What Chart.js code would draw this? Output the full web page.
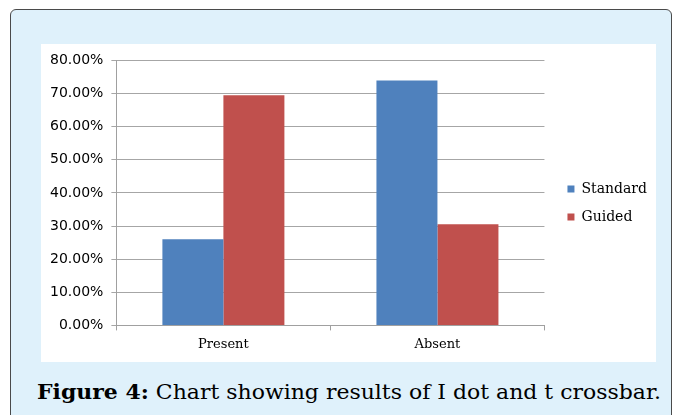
<!DOCTYPE html>
<html>
<head>
<meta charset="utf-8">
<script src="https://cdn.jsdelivr.net/npm/chart.js@4/dist/chart.umd.min.js"></script>
<style>
  html, body { margin: 0; padding: 0; background: #ffffff; }
  body { width: 680px; height: 415px; position: relative; overflow: hidden; }
  .frame {
    position: absolute; left: 10px; top: 9px; width: 662px; height: 420px;
    background: #dff1fb; border: 1.5px solid #4a4a4a; border-radius: 6px; box-sizing: border-box;
  }
  .plot {
    position: absolute; left: 41px; top: 44px; width: 615px; height: 318px; background: #ffffff;
  }
  .caption {
    position: absolute; left: 37px; top: 379px; white-space: nowrap;
    font-family: "DejaVu Serif", serif; font-size: 21px; color: #000;
  }
  .caption b { font-weight: bold; }
</style>
</head>
<body>
<div class="frame"></div>
<div class="plot"><canvas id="chart" width="615" height="318"></canvas></div>
<div class="caption" id="cap"><b>Figure 4:</b> Chart showing results of I dot and t crossbar.</div>
<script>
const categories = ["Present", "Absent"];
const standardValues = [0.26, 0.739];
const guidedValues = [0.695, 0.305];
const yTicks = [0, 0.1, 0.2, 0.3, 0.4, 0.5, 0.6, 0.7, 0.8];

// nudge the legend a bit right and up, like in the figure
const legendShift = {
    id: "legendShift",
    afterLayout(chart) {
        const lg = chart.legend;
        if (!lg) return;
        lg.left += 9; lg.right += 9;
        lg.top -= 5; lg.bottom -= 5;
    }
};

document.addEventListener("DOMContentLoaded", function () {
    // stretch caption to the width it has in the figure
    const cap = document.getElementById("cap");
    const w = cap.getBoundingClientRect().width;
    cap.style.transformOrigin = "0 0";
    cap.style.transform = "scaleX(" + (624 / w) + ")";

    const canvas = document.getElementById("chart");
    new Chart(canvas, {
        type: "bar",
        data: {
            labels: categories,
            datasets: [
                { label: "Standard", data: standardValues, backgroundColor: "#4f81bd" },
                { label: "Guided", data: guidedValues, backgroundColor: "#c0504d" }
            ]
        },
        options: {
            responsive: false,
            animation: false,
            layout: { padding: { top: 14, right: 8, left: 1, bottom: 4 } },
            datasets: { bar: { barPercentage: 1, categoryPercentage: 0.57 } },
            plugins: {
                legend: {
                    position: "right",
                    labels: {
                        boxWidth: 7, boxHeight: 7, padding: 14,
                        font: { family: "DejaVu Serif", size: 14 },
                        color: "#000"
                    }
                },
                tooltip: { enabled: false }
            },
            scales: {
                x: {
                    ticks: {
                        font: { family: "DejaVu Serif", size: 13 },
                        color: "#000", padding: 6
                    },
                    grid: { drawOnChartArea: false, drawTicks: true, tickLength: 5, color: "#a0a0a0" },
                    border: { color: "#a0a0a0" }
                },
                y: {
                    min: 0, max: 0.8,
                    afterBuildTicks: axis => { axis.ticks = yTicks.map(v => ({ value: v })); },
                    ticks: {
                        font: { family: "DejaVu Sans", size: 14 },
                        color: "#000", padding: 8,
                        callback: v => (v * 100).toFixed(2) + "%"
                    },
                    grid: { color: "#a6a6a6", tickLength: 5 },
                    border: { color: "#a0a0a0" }
                }
            }
        },
        plugins: [legendShift]
    });
});
</script>
</body>
</html>
